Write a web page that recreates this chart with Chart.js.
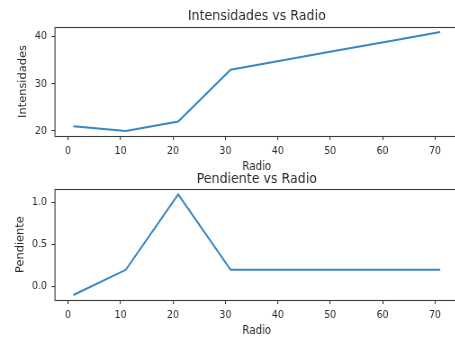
<!DOCTYPE html>
<html><head><meta charset="utf-8">
<script src="https://cdn.jsdelivr.net/npm/chart.js@4/dist/chart.umd.min.js"></script>
<style>
html,body{margin:0;padding:0;background:#fff;overflow:hidden;width:455px;height:337px;position:relative}
canvas{position:absolute;left:0;transform-origin:0 0;transform:scaleX(0.9)}
</style></head><body>
<canvas id="c1" width="520" height="174" style="top:0"></canvas>
<canvas id="c2" width="520" height="172" style="top:166px"></canvas>
<script>
const radio = [1, 11, 21, 31, 41, 51, 61, 71];
const intensidades = [21, 20, 22, 33, 35, 37, 39, 41];
const pendiente = [-0.1, 0.2, 1.1, 0.2, 0.2, 0.2, 0.2, 0.2];
const xTickValues = [0, 10, 20, 30, 40, 50, 60, 70];
const xTickLabels = ['0', '10', '20', '30', '40', '50', '60', '70'];
const yTopValues = [20, 30, 40];
const yTopLabels = ['20', '30', '40'];
const yBotValues = [0, 0.5, 1.0];
const yBotLabels = ['0.0', '0.5', '1.0'];

const S = 0.9;            // horizontal squeeze applied with CSS
const FONT = 'DejaVu Sans';
const TXT = '#2b2b2b';
const AX = '#3a3a3a';
const LINE = '#3a86c0';

const boxPlugin = {
  id: 'box',
  afterDraw(chart) {
    const a = chart.chartArea, ctx = chart.ctx;
    ctx.save();
    ctx.strokeStyle = AX; ctx.lineWidth = 1.1;
    ctx.strokeRect(a.left, Math.round(a.top) + 0.5, a.right - a.left, Math.round(a.bottom - a.top));
    ctx.restore();
  }
};

function makeChart(id, cfg) {
  const pts = radio.map((x, i) => ({x: x, y: cfg.values[i]}));
  return new Chart(document.getElementById(id), {
    type: 'line',
    data: {datasets: [{data: pts, borderColor: LINE, borderWidth: 2, pointRadius: 0, tension: 0, fill: false}]},
    options: {
      responsive: false, animation: false,
      layout: {padding: {left: 0, right: 520 - 458.6 / S, top: 0, bottom: 0}},
      plugins: {
        legend: {display: false}, tooltip: {enabled: false},
        title: {display: true, text: cfg.title, fullSize: false, color: TXT,
          font: {family: FONT, size: 14, weight: 'normal'}, padding: cfg.titlePad}
      },
      scales: {
        x: {
          type: 'linear', min: -2.5, max: 74.5,
          afterBuildTicks: s => { s.ticks = xTickValues.map(v => ({value: v})); },
          afterFit: s => { s.height = cfg.xHeight; },
          ticks: {color: TXT, font: {family: FONT, size: 10.5}, padding: 5, maxRotation: 0,
            callback: (v) => xTickLabels[xTickValues.indexOf(v)]},
          grid: {drawOnChartArea: false, drawTicks: true, tickLength: 4, color: AX, lineWidth: 1.1},
          border: {display: false},
          title: {display: true, text: 'Radio', color: TXT, font: {family: FONT, size: 11.4}, padding: {top: 0, bottom: cfg.xTitlePad}}
        },
        y: {
          type: 'linear', min: cfg.ymin, max: cfg.ymax,
          afterBuildTicks: s => { s.ticks = cfg.yVals.map(v => ({value: v})); },
          afterFit: s => { s.width = 55 / S; },
          ticks: {color: TXT, font: {family: FONT, size: 10.5}, padding: 55 / S - 4 - 47 / S,
            callback: (v) => cfg.yLabels[cfg.yVals.indexOf(v)]},
          grid: {drawOnChartArea: false, drawTicks: true, tickLength: 4, color: AX, lineWidth: 1.1},
          border: {display: false},
          title: {display: true, text: cfg.ytitle, color: TXT, font: {family: FONT, size: 11.4},
            padding: {top: cfg.yTitleCenter / S - 6.84, bottom: 0}}
        }
      }
    },
    plugins: [boxPlugin]
  });
}

makeChart('c1', {values: intensidades, title: 'Intensidades vs Radio', titlePad: {top: 8.1, bottom: 2.1},
  ymin: 18.95, ymax: 42.05, yVals: yTopValues, yLabels: yTopLabels, ytitle: 'Intensidades', yTitleCenter: 23.5,
  xHeight: 38, xTitlePad: 0.6});
makeChart('c2', {values: pendiente, title: 'Pendiente vs Radio', titlePad: {top: 4.7, bottom: 1.8},
  ymin: -0.16, ymax: 1.16, yVals: yBotValues, yLabels: yBotLabels, ytitle: 'Pendiente', yTitleCenter: 20.6,
  xHeight: 38, xTitlePad: 0.6});
</script>
</body></html>
